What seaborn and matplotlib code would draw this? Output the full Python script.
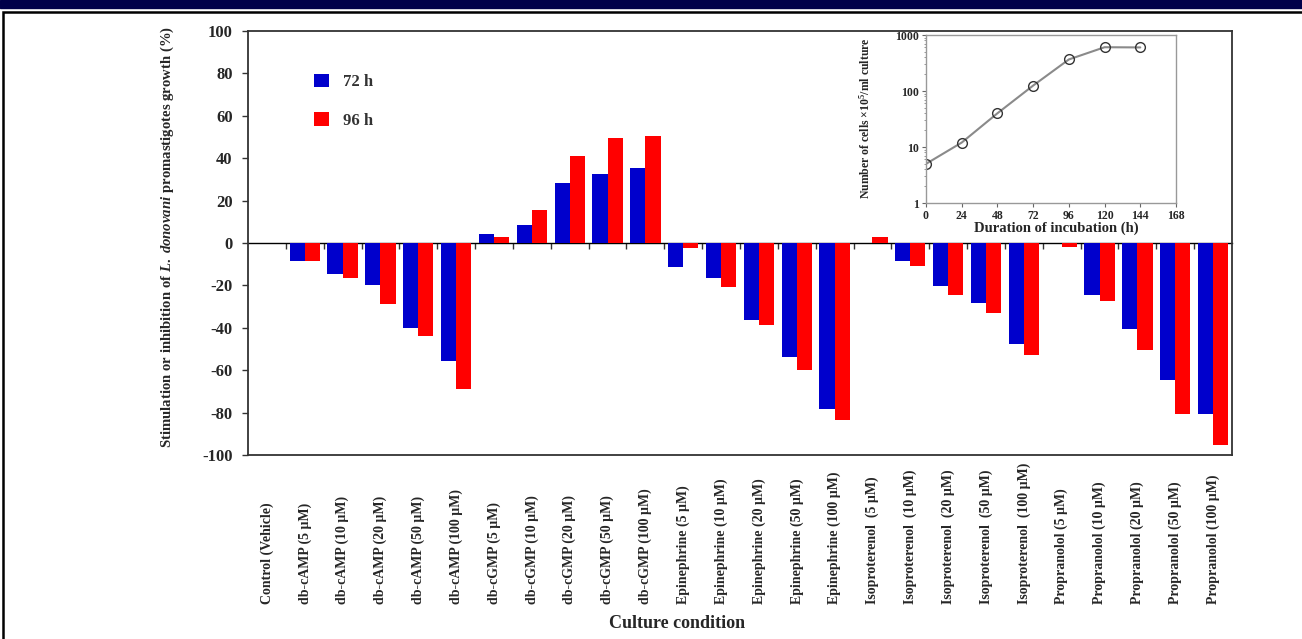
import numpy as np
import pandas as pd
import matplotlib
matplotlib.use("Agg")
import matplotlib.pyplot as plt
import seaborn as sns
from matplotlib.patches import Rectangle

# Data
conditions = [
    "Control (Vehicle)",
    "db-cAMP (5 µM)", "db-cAMP (10 µM)", "db-cAMP (20 µM)", "db-cAMP (50 µM)", "db-cAMP (100 µM)",
    "db-cGMP (5 µM)", "db-cGMP (10 µM)", "db-cGMP (20 µM)", "db-cGMP (50 µM)", "db-cGMP (100 µM)",
    "Epinephrine (5 µM)", "Epinephrine (10 µM)", "Epinephrine (20 µM)", "Epinephrine (50 µM)", "Epinephrine (100 µM)",
    "Isoproterenol  (5 µM)", "Isoproterenol  (10 µM)", "Isoproterenol  (20 µM)", "Isoproterenol  (50 µM)", "Isoproterenol  (100 µM)",
    "Propranolol (5 µM)", "Propranolol (10 µM)", "Propranolol (20 µM)", "Propranolol (50 µM)", "Propranolol (100 µM)",
]
growth_72h = [0, -8.5, -14.5, -20, -40, -55.5,
              4.3, 8.5, 28.3, 32.5, 35.5,
              -11.5, -16.5, -36.3, -53.6, -78.3,
              0, -8.5, -20.3, -28.3, -47.6,
              0, -24.5, -40.6, -64.6, -80.5]
growth_96h = [0, -8.5, -16.5, -28.6, -44, -69,
              3, 15.4, 41, 49.4, 50.7,
              -2.2, -20.8, -38.5, -59.9, -83.5,
              3, -11, -24.5, -32.9, -52.8,
              -1.7, -27.4, -50.6, -80.5, -95.3]
time_labels = ["72 h", "96 h"]

# inset: growth curve
inc_hours = [0, 24, 48, 72, 96, 120, 144]
cell_counts = [5, 12, 40, 125, 366, 605, 600]

df = pd.DataFrame({
    "condition": conditions * 2,
    "value": growth_72h + growth_96h,
    "time": [time_labels[0]] * len(conditions) + [time_labels[1]] * len(conditions),
})

sns.set_style("ticks")
plt.rcParams['font.family'] = ['Liberation Serif', 'DejaVu Serif']
plt.rcParams['font.weight'] = 'bold'
plt.rcParams['axes.unicode_minus'] = False
plt.rcParams['mathtext.fontset'] = 'custom'
plt.rcParams['mathtext.rm'] = 'Liberation Serif:bold'
plt.rcParams['mathtext.bf'] = 'Liberation Serif:bold'
plt.rcParams['mathtext.it'] = 'Liberation Serif:italic:bold'

fig = plt.figure(figsize=(13.02, 6.39), dpi=100)

# page decoration: navy band and black frame
fig.patches.append(Rectangle((0, 1 - 8 / 639), 1, 8 / 639, transform=fig.transFigure,
                             color='#00004a', zorder=0))
fig.patches.append(Rectangle((3 / 1302, -0.1), 1.1, 1.1 - 12 / 639, transform=fig.transFigure,
                             fill=False, ec='black', lw=1.8, zorder=0))

ax = fig.add_axes([248 / 1302, (639 - 455) / 639, 984 / 1302, 424 / 639])
sns.barplot(data=df, x="condition", y="value", hue="time",
            palette={"72 h": "#0000cc", "96 h": "#ff0000"},
            saturation=1, errorbar=None, linewidth=0, width=0.8, ax=ax)

ax.set_ylim(-100, 100)
ax.set_xlim(-0.5, len(conditions) - 0.5)
ax.set_yticks(np.arange(-100, 101, 20))
ax.tick_params(axis='y', labelsize=12, length=4, width=1, pad=7, color='#333333')
for lbl in ax.get_yticklabels():
    lbl.set_fontweight('bold')
ax.set_xticks(range(len(conditions)))
ax.set_xticklabels(conditions, rotation=90, va='bottom', ha='center',
                   fontsize=10, fontweight='bold')
ax.tick_params(axis='x', length=0, pad=107)
for s in ax.spines.values():
    s.set_visible(True)
    s.set_color('#333333')
    s.set_linewidth(1.3)

# zero line with boundary ticks
zero = ax.secondary_xaxis(0, transform=ax.transData)
zero.set_xticks(np.arange(len(conditions) - 1) + 0.5)
zero.set_xticklabels([])
zero.tick_params(length=4, width=1, direction='out', color='#333333')
zero.spines['bottom'].set_color('black')
zero.spines['bottom'].set_linewidth(1)

ax.set_xlabel("Culture condition", fontsize=13, fontweight='bold', va='top')
ax.xaxis.set_label_coords(0.436, -0.377)
ax.set_ylabel(r"Stimulation or inhibition of $\mathit{L.\ donovani}$ promastigotes growth (%)",
              fontsize=10.6, fontweight='bold')
ax.yaxis.set_label_coords(-0.073, 0.514)

ax.legend(title=None, frameon=False, loc='upper left', bbox_to_anchor=(0.052, 0.935),
          handlelength=0.9, handleheight=0.9, handletextpad=0.8, labelspacing=1.3,
          prop={'family': 'Liberation Serif', 'weight': 'bold', 'size': 12},
          labelcolor='#333333')

# inset growth curve
ins = fig.add_axes([926 / 1302, (639 - 203) / 639, 250 / 1302, 168 / 639])
sns.lineplot(x=inc_hours, y=cell_counts, ax=ins, color='#8a8a8a', lw=1.5,
             marker='o', markersize=7, markerfacecolor='none',
             markeredgecolor='#333333', markeredgewidth=1)
ins.set_yscale('log')
ins.set_ylim(1, 1000)
ins.set_xlim(0, 168)
ins.set_xticks(range(0, 169, 24))
ins.set_xticklabels([str(h) for h in range(0, 169, 24)], fontsize=8.5, fontweight='bold')
ins.set_yticks([1, 10, 100, 1000])
ins.set_yticklabels(["1", "10", "100", "1000"], fontsize=8.5, fontweight='bold')
ins.tick_params(axis='both', which='major', length=3, width=0.8, pad=2, color='#666666')
ins.tick_params(axis='y', which='minor', length=1.5, width=0.6, color='#888888')
for s in ins.spines.values():
    s.set_visible(True)
    s.set_color('#999999')
    s.set_linewidth(1)
ins.set_xlabel("Duration of incubation (h)", fontsize=10.5, fontweight='bold', va='top')
ins.xaxis.set_label_coords(0.52, -0.113)
ins.set_ylabel(r"Number of cells $\times$10$^{\mathbf{5}}$/ml culture", fontsize=8.5, fontweight='bold')
ins.yaxis.set_label_coords(-0.215, 0.506)

plt.savefig("out.png", dpi=100)
